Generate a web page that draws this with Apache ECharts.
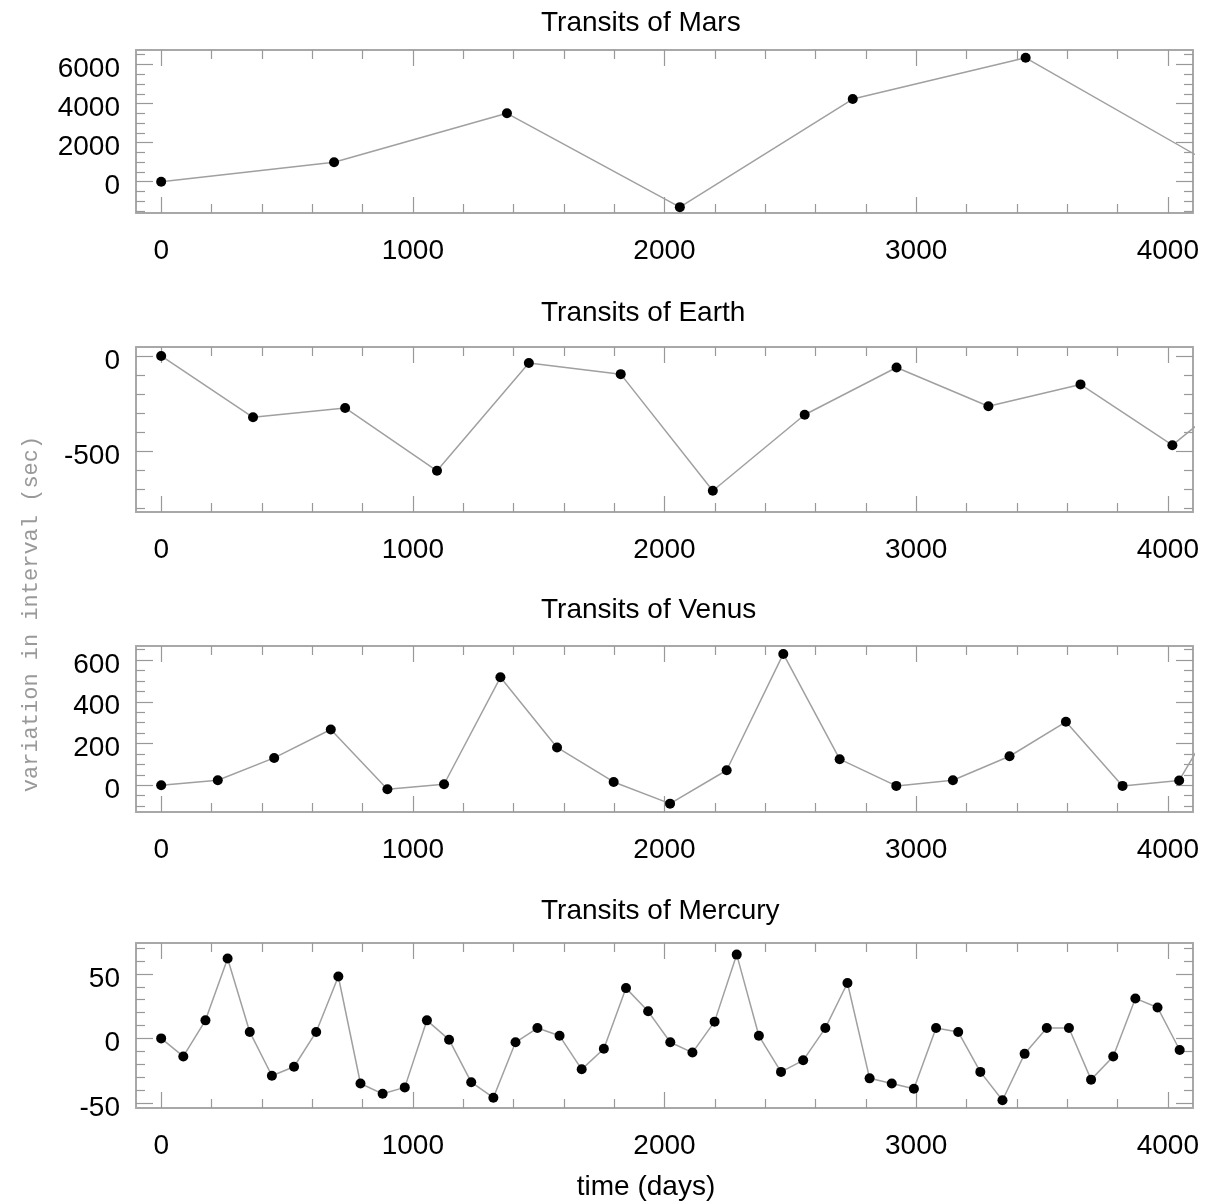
<!DOCTYPE html>
<html><head><meta charset="utf-8">
<script src="https://cdn.jsdelivr.net/npm/echarts@6/dist/echarts.min.js"></script>
<style>html,body{margin:0;padding:0;background:#fff}#c{width:1209px;height:1204px}</style>
</head><body><div id="c"></div>
<script>
// ---- text ----
const panelTitles = ['Transits of Mars', 'Transits of Earth', 'Transits of Venus', 'Transits of Mercury'];
const xAxisTitle = 'time (days)';
const yAxisTitle = 'variation in interval (sec)';

// ---- data (days since first transit, variation in interval in sec) ----
const marsDays = [0, 687, 1374, 2061, 2748, 3435, 4122];
const marsVar  = [0, 1000, 3500, -1300, 4230, 6340, 1290];

const earthDays = [0, 365, 731, 1096, 1461, 1826, 2192, 2557, 2922, 3287, 3653, 4018, 4383];
const earthVar  = [0, -323, -274, -605, -37, -96, -710, -310, -61, -265, -150, -470, -75];

const venusDays = [0, 225, 449, 674, 899, 1124, 1348, 1573, 1798, 2022, 2247, 2472, 2696, 2921, 3146, 3371, 3595, 3820, 4045, 4269];
const venusVar  = [0, 24, 131, 267, -19, 5, 517, 181, 16, -88, 72, 629, 125, -3, 24, 139, 304, -3, 23, 480];

const mercuryDays = [0, 88, 176, 264, 352, 440, 528, 616, 704, 792, 880, 968, 1056, 1144, 1232, 1320,
  1408, 1495, 1583, 1671, 1759, 1847, 1935, 2023, 2111, 2199, 2287, 2375, 2463, 2551, 2639, 2727,
  2815, 2903, 2991, 3079, 3167, 3255, 3343, 3431, 3519, 3607, 3695, 3783, 3871, 3959, 4047];
const mercuryVar = [0, -14, 14, 62, 5, -29, -22, 5, 48, -35, -43, -38, 14, -1, -34, -46,
  -3, 8, 2, -24, -8, 39, 21, -3, -11, 13, 65, 2, -26, -17, 8, 43,
  -31, -35, -39, 8, 5, -26, -48, -12, 8, 8, -32, -14, 31, 24, -9];

// ---- ticks ----
const xMajorTicks = [0, 1000, 2000, 3000, 4000];
const xMinorTicks = [200, 400, 600, 800, 1200, 1400, 1600, 1800, 2200, 2400, 2600, 2800, 3200, 3400, 3600, 3800];
const marsMajor = [0, 2000, 4000, 6000];
const marsMinor = [-1500, -1000, -500, 500, 1000, 1500, 2500, 3000, 3500, 4500, 5000, 5500, 6500];
const earthMajor = [-500, 0];
const earthMinor = [-800, -700, -600, -400, -300, -200, -100];
const venusMajor = [0, 200, 400, 600];
const venusMinor = [-100, -50, 50, 100, 150, 250, 300, 350, 450, 500, 550, 650];
const mercuryMajor = [-50, 0, 50];
const mercuryMinor = [-40, -30, -20, -10, 10, 20, 30, 40, 60, 70];

// ---- layout / style ----
const panels = [
  {days: marsDays, vals: marsVar, major: marsMajor, minor: marsMinor, yMin: -1600, yMax: 6740, top: 50, height: 163, titleY: 22},
  {days: earthDays, vals: earthVar, major: earthMajor, minor: earthMinor, yMin: -822, yMax: 47, top: 347, height: 165, titleY: 312},
  {days: venusDays, vals: venusVar, major: venusMajor, minor: venusMinor, yMin: -128, yMax: 667, top: 646, height: 166, titleY: 609},
  {days: mercuryDays, vals: mercuryVar, major: mercuryMajor, minor: mercuryMinor, yMin: -54, yMax: 74, top: 943, height: 165, titleY: 910}
];
const FONT = "'Liberation Sans', Arial, Helvetica, sans-serif";
const AX = '#a8a8a8', TK = '#999';
const plain = v => String(v);

const grid = [], xAxis = [], yAxis = [], series = [], graphic = [];
panels.forEach((p, i) => {
  grid.push({left: 136, width: 1057, top: p.top, height: p.height, outerBoundsMode: 'none', containLabel: false});
  const xBase = {gridIndex: i, type: 'value', min: -100, max: 4100, splitLine: {show: false}};
  const yBase = {gridIndex: i, type: 'value', min: p.yMin, max: p.yMax, splitLine: {show: false}};
  const lineOn = {show: true, onZero: false, lineStyle: {color: AX, width: 2}};
  const lineOff = {show: false, onZero: false};
  const noLab = {show: false};
  const tick = (vals, len) => ({show: true, inside: true, length: len, customValues: vals, lineStyle: {color: TK, width: 1.2}});
  xAxis.push(Object.assign({}, xBase, {position: 'bottom', axisLine: lineOn, axisTick: tick(xMajorTicks, 16),
    axisLabel: {show: true, customValues: xMajorTicks, formatter: plain, margin: 24, fontSize: 28, color: '#000', fontFamily: FONT}}));
  xAxis.push(Object.assign({}, xBase, {position: 'bottom', axisLine: lineOff, axisTick: tick(xMinorTicks, 9), axisLabel: noLab}));
  xAxis.push(Object.assign({}, xBase, {position: 'top', axisLine: lineOn, axisTick: tick(xMajorTicks, 16), axisLabel: noLab}));
  xAxis.push(Object.assign({}, xBase, {position: 'top', axisLine: lineOff, axisTick: tick(xMinorTicks, 9), axisLabel: noLab}));
  yAxis.push(Object.assign({}, yBase, {position: 'left', axisLine: lineOn, axisTick: tick(p.major, 17),
    axisLabel: {show: true, customValues: p.major, formatter: plain, margin: 16, fontSize: 28, color: '#000', fontFamily: FONT,
      verticalAlign: 'top', lineHeight: 10}}));
  yAxis.push(Object.assign({}, yBase, {position: 'left', axisLine: lineOff, axisTick: tick(p.minor, 9), axisLabel: noLab}));
  yAxis.push(Object.assign({}, yBase, {position: 'right', axisLine: lineOn, axisTick: tick(p.major, 17), axisLabel: noLab}));
  yAxis.push(Object.assign({}, yBase, {position: 'right', axisLine: lineOff, axisTick: tick(p.minor, 9), axisLabel: noLab}));
  series.push({
    type: 'line', xAxisIndex: 4 * i, yAxisIndex: 4 * i,
    data: p.days.map((d, k) => [d, p.vals[k]]),
    symbol: 'circle', symbolSize: 10, showSymbol: true, showAllSymbol: true, clip: true,
    lineStyle: {color: '#a0a0a0', width: 1.5},
    itemStyle: {color: '#000', borderWidth: 0},
    emphasis: {disabled: true}, animation: false
  });
  graphic.push({type: 'text', x: 541, y: p.titleY + 1,
    style: {text: panelTitles[i], font: '28px ' + FONT, fill: '#000', align: 'left', verticalAlign: 'middle'}});
});
graphic.push({type: 'text', x: 646, y: 1187,
  style: {text: xAxisTitle, font: '28px ' + FONT, fill: '#000', align: 'center', verticalAlign: 'middle'}});
graphic.push({type: 'text', x: 31, y: 614, rotation: Math.PI / 2,
  style: {text: yAxisTitle, font: "22px 'Liberation Mono', 'DejaVu Sans Mono', monospace", fill: '#999', align: 'center', verticalAlign: 'middle'}});

const chart = echarts.init(document.getElementById('c'), null, {renderer: 'canvas'});
chart.setOption({backgroundColor: '#fff', animation: false, grid, xAxis, yAxis, series, graphic});
</script>
</body></html>
